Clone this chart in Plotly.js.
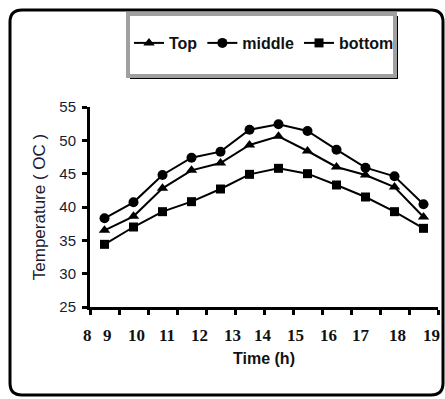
<!DOCTYPE html>
<html><head><meta charset="utf-8">
<script src="https://cdn.plot.ly/plotly-3.0.1.min.js"></script>
<style>html,body{margin:0;padding:0;background:#fff}</style>
</head><body>
<div id="chart" style="width:445px;height:399px"></div>
<script>
// Data
const hourLabels = ['8','9','10','11','12','13','14','15','16','17','18','19'];
const topTemp    = [36.5, 38.6, 42.8, 45.5, 46.6, 49.3, 50.6, 48.4, 46.0, 44.8, 43.0, 38.5];
const middleTemp = [38.3, 40.7, 44.8, 47.4, 48.3, 51.6, 52.4, 51.4, 48.6, 45.9, 44.6, 40.4];
const bottomTemp = [34.4, 37.0, 39.3, 40.8, 42.7, 44.9, 45.8, 45.0, 43.3, 41.5, 39.3, 36.8];
const yTicks = [25, 30, 35, 40, 45, 50, 55];
// where the hour labels sit along the axis (in category units, as in the picture)
const labelPos = [-0.57, 0.12, 1.09, 2.16, 3.29, 4.40, 5.47, 6.60, 7.71, 8.84, 10.12, 11.29];

// plot area in pixels
const L = 90, R = 438, T = 107, B = 307;
const W = 445, H = 399;
const px = p => (p - L) / (R - L);
const py = p => (B - p) / (B - T);
const xRange = [-0.5, 11.5];
const catToPaper = c => (c - xRange[0]) / (xRange[1] - xRange[0]);

function roundRect(x0, y0, x1, y1, r) {
  const X = px, Y = py;
  return 'M' + X(x0 + r) + ',' + Y(y0) +
    ' L' + X(x1 - r) + ',' + Y(y0) +
    ' Q' + X(x1) + ',' + Y(y0) + ' ' + X(x1) + ',' + Y(y0 + r) +
    ' L' + X(x1) + ',' + Y(y1 - r) +
    ' Q' + X(x1) + ',' + Y(y1) + ' ' + X(x1 - r) + ',' + Y(y1) +
    ' L' + X(x0 + r) + ',' + Y(y1) +
    ' Q' + X(x0) + ',' + Y(y1) + ' ' + X(x0) + ',' + Y(y1 - r) +
    ' L' + X(x0) + ',' + Y(y0 + r) +
    ' Q' + X(x0) + ',' + Y(y0) + ' ' + X(x0 + r) + ',' + Y(y0) + ' Z';
}

const common = {type: 'scatter', mode: 'lines+markers', x: hourLabels,
  line: {color: '#000', width: 2}, hoverinfo: 'skip'};
const traces = [
  Object.assign({}, common, {name: 'Top', y: topTemp,
    marker: {symbol: 'triangle-up', size: 10, color: '#000'}}),
  Object.assign({}, common, {name: 'middle', y: middleTemp,
    marker: {symbol: 'circle', size: 10, color: '#000'}}),
  Object.assign({}, common, {name: 'bottom', y: bottomTemp,
    marker: {symbol: 'square', size: 9, color: '#000'}})
];

const boldSans = {family: '"Liberation Sans", Arial, sans-serif', size: 16, color: '#111', weight: 'bold'};
const tickFontX = {family: '"Liberation Serif", "Times New Roman", serif', size: 17, color: '#111', weight: 'bold'};

const annotations = hourLabels.map((h, i) => ({
  xref: 'paper', yref: 'paper', x: catToPaper(labelPos[i]), y: py(335), text: h,
  showarrow: false, xanchor: 'center', yanchor: 'middle', font: tickFontX
}));

const layout = {
  width: W, height: H, autosize: false,
  margin: {l: L, r: W - R, t: T, b: H - B, pad: 0},
  paper_bgcolor: '#fff', plot_bgcolor: 'rgba(0,0,0,0)',
  showlegend: true,
  legend: {orientation: 'h', x: px(129), xanchor: 'left', y: py(43), yanchor: 'middle',
    bgcolor: 'rgba(0,0,0,0)', borderwidth: 0, font: boldSans,
    itemwidth: 30, tracegroupgap: 0, itemclick: false},
  xaxis: {type: 'category', categoryorder: 'array', categoryarray: hourLabels,
    range: xRange, tickson: 'boundaries', ticks: 'outside', ticklen: 5,
    tickwidth: 3, tickcolor: '#000', showticklabels: false,
    showline: true, linecolor: '#000', linewidth: 3, showgrid: false, zeroline: false,
    fixedrange: true,
    title: {text: 'Time (h)', font: boldSans, standoff: 44}},
  yaxis: {range: [25, 55], tickmode: 'array', tickvals: yTicks, ticks: 'outside',
    ticklen: 5, tickwidth: 3, tickcolor: '#000', showline: true, linecolor: '#000',
    linewidth: 3, showgrid: false, zeroline: false, fixedrange: true,
    tickfont: {family: '"Liberation Sans", Arial, sans-serif', size: 15, color: '#1a1a33'},
    ticklabelstandoff: 3,
    title: {text: 'Temperature ( OC )', standoff: 10,
      font: {family: '"Liberation Sans", Arial, sans-serif', size: 17, color: '#1a1a33'}}},
  annotations: annotations,
  shapes: [
    {type: 'path', xref: 'paper', yref: 'paper', path: roundRect(10, 10, 443, 395, 12),
      line: {color: '#000', width: 3}, fillcolor: 'rgba(0,0,0,0)', layer: 'below'},
    {type: 'rect', xref: 'paper', yref: 'paper', x0: px(130), x1: px(398), y0: py(16), y1: py(79),
      line: {width: 0}, fillcolor: '#000', layer: 'below'},
    {type: 'rect', xref: 'paper', yref: 'paper', x0: px(128), x1: px(395), y0: py(14), y1: py(76),
      line: {color: '#a0a0a0', width: 4}, fillcolor: '#fff', layer: 'below'}
  ]
};

Plotly.newPlot('chart', traces, layout, {staticPlot: true, displayModeBar: false});
</script>
</body></html>
